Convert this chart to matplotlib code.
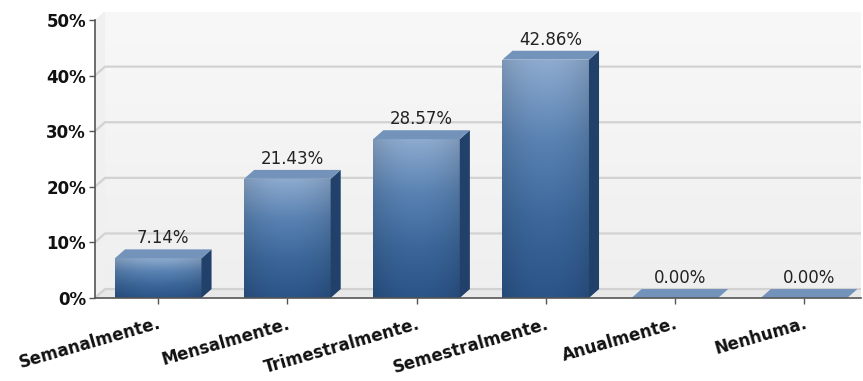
import numpy as np
import matplotlib.pyplot as plt
from matplotlib.colors import LinearSegmentedColormap
from matplotlib.patches import Polygon

# dados
categorias = ['Semanalmente.', 'Mensalmente.', 'Trimestralmente.',
              'Semestralmente.', 'Anualmente.', 'Nenhuma.']
valores = [7.14, 21.43, 28.57, 42.86, 0.00, 0.00]
yticks = [0, 10, 20, 30, 40, 50]

# profundidade do efeito 3D (em unidades dos eixos)
dx, dy = 0.078, 1.6
xmin, xmax = -0.49, 5.44
ymax = yticks[-1]

fig = plt.figure(figsize=(8.63, 3.81), dpi=100)
ax = fig.add_axes([0.110, 0.218, 0.8875, 0.7515])

# parede de fundo com gradiente leve
fundo = LinearSegmentedColormap.from_list('fundo', ['#efefef', '#f8f8f8'])
grad = np.linspace(0, 1, 256).reshape(-1, 1)
ax.imshow(grad, cmap=fundo, origin='lower', aspect='auto',
          extent=(xmin + dx, xmax, dy, ymax + dy), zorder=0)
ax.add_patch(Polygon([(xmin, 0), (xmin + dx, dy), (xmin + dx, ymax + dy), (xmin, ymax)],
                     closed=True, facecolor='#f0f0f0', edgecolor='none', zorder=0))
# chão
ax.add_patch(Polygon([(xmin, 0), (xmin + dx, dy), (xmax, dy), (xmax, 0)],
                     closed=True, facecolor='#e8e8e8', edgecolor='none', zorder=0.5))

# linhas de grade na parede de fundo
for t in yticks[:-1]:
    ax.plot([xmin, xmin + dx, xmax], [t, t + dy, t + dy], color='#d2d2d2', lw=1.6, zorder=1)

# barras
x = np.arange(len(categorias))
barras = ax.bar(x, valores, width=0.67, color='none', edgecolor='none', zorder=3)

frente = LinearSegmentedColormap.from_list('frente', ['#2b5488', '#3d689c', '#5a83b3', '#8eabcf'])
vert = np.linspace(0, 1, 200)
horiz = 1 - 0.12 * np.abs(np.linspace(-1, 1, 60)) ** 2
for b, v in zip(barras, valores):
    x0, w, h = b.get_x(), b.get_width(), b.get_height()
    if h > 0:
        rgb = frente(vert)[:, :3][:, None, :] * horiz[None, :, None]
        im = ax.imshow(rgb, origin='lower', aspect='auto',
                       extent=(x0, x0 + w, 0, h), zorder=3)
        im.set_clip_path(b)
        # lateral
        ax.add_patch(Polygon([(x0 + w, 0), (x0 + w + dx, dy), (x0 + w + dx, h + dy), (x0 + w, h)],
                             closed=True, facecolor='#21406a', edgecolor='none', zorder=3))
    # topo
    ax.add_patch(Polygon([(x0, h), (x0 + dx, h + dy), (x0 + w + dx, h + dy), (x0 + w, h)],
                         closed=True, facecolor='#7393bb', edgecolor='none', zorder=3))
    ax.text(x0 + w / 2 + dx / 2, h + dy + 0.4, f'{v:.2f}%', ha='center', va='bottom',
            fontsize=12, color='#222222', zorder=4)

ax.set_xlim(xmin, xmax)
ax.set_ylim(0, ymax + 1.5)

ax.set_yticks(yticks)
ax.set_yticklabels([f'{t}%' for t in yticks], fontsize=12, fontweight='bold', color='#111111')
ax.set_xticks(x)
ax.set_xticklabels(categorias, rotation=16, ha='right', va='top', rotation_mode='anchor',
                   fontsize=12, fontweight='bold', color='#111111')
ax.tick_params(axis='y', length=4.5, width=1, color='#555555', pad=2)
ax.tick_params(axis='x', length=4, width=1, color='#555555', pad=8)

for s in ['top', 'right']:
    ax.spines[s].set_visible(False)
ax.spines['left'].set_bounds(0, ymax)
ax.spines['left'].set_color('#555555')
ax.spines['bottom'].set_color('#555555')
ax.spines['left'].set_linewidth(1.2)
ax.spines['bottom'].set_linewidth(1.2)
ax.spines['left'].set_zorder(5)
ax.spines['bottom'].set_zorder(5)

plt.savefig('out.png', dpi=100)
